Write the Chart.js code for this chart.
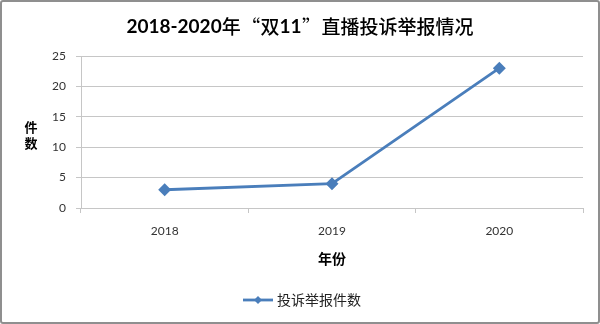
<!DOCTYPE html>
<html>
<head>
<meta charset="utf-8">
<script src="https://cdn.jsdelivr.net/npm/chart.js@4/dist/chart.umd.min.js"></script>
<style>
    html, body { margin: 0; padding: 0; background: #fff; }
    #wrap {
        position: relative;
        width: 600px; height: 324px;
        box-sizing: border-box;
        border: 2px solid #8f8f8f;
        border-radius: 3px;
    }
    #myChart { position: absolute; left: -2px; top: -2px; }
</style>
</head>
<body>
<div id="wrap"><canvas id="myChart" width="600" height="324"></canvas></div>
<script>
// data
const years = ['2018', '2019', '2020'];
const complaints = [3, 4, 23];
const yTicks = [0, 5, 10, 15, 20, 25];

const chartTitle = '2018-2020年“双11”直播投诉举报情况';
const seriesName = '投诉举报件数';
const xTitle = '年份';
const yTitle = ['件', '数'];

const lineColor = '#4a7ebb';
const gridColor = '#c6c6c6';
const cjk = '"Noto Sans CJK SC", sans-serif';
const latin = 'Lato, "Noto Sans CJK SC", sans-serif';

// title: bold latin digits, medium CJK, full width curly quotes
function drawMixed(ctx, text, cx, y, size) {
    const runs = [];
    for (const ch of text) {
        const isQuote = ch === '“' || ch === '”';
        const isCjk = /[\u3400-\u9fff]/.test(ch);
        const font = isQuote ? 'normal ' + size + 'px ' + cjk
            : isCjk ? '500 ' + size + 'px ' + cjk
            : 'bold ' + size + 'px ' + latin;
        const last = runs[runs.length - 1];
        if (last && last.font === font && !isQuote) last.text += ch;
        else runs.push({ text: ch, font: font, quote: isQuote });
    }
    let total = 0;
    runs.forEach(r => {
        ctx.font = r.font;
        r.w = r.quote ? size * 1.05 : ctx.measureText(r.text).width;
        total += r.w;
    });
    let x = cx - total / 2;
    ctx.textAlign = 'center';
    runs.forEach(r => {
        ctx.font = r.font;
        ctx.fillText(r.text, x + r.w / 2, y);
        x += r.w;
    });
}

// texts outside the plot: title, axis titles, legend
const extraText = {
    id: 'extraText',
    afterDraw(chart) {
        const ctx = chart.ctx;
        const area = chart.chartArea;
        const cx = chart.width / 2;
        ctx.save();
        ctx.fillStyle = '#000';
        ctx.textAlign = 'center';
        ctx.textBaseline = 'middle';

        drawMixed(ctx, chartTitle, cx, 27, 19);

        ctx.textAlign = 'center';
        ctx.font = 'bold 14px ' + cjk;
        ctx.fillText(xTitle, (area.left + area.right) / 2, 259);
        ctx.font = 'bold 13px ' + cjk;
        yTitle.forEach((ch, i) => ctx.fillText(ch, 31, 127 + i * 16));

        // legend: line with diamond marker
        ctx.font = '14px ' + cjk;
        const textW = ctx.measureText(seriesName).width;
        const lineW = 30;
        const total = lineW + 4 + textW;
        const x0 = cx - total / 2 + 2;
        const ly = 300;
        ctx.strokeStyle = lineColor;
        ctx.lineWidth = 2.8;
        ctx.beginPath();
        ctx.moveTo(x0, ly);
        ctx.lineTo(x0 + lineW, ly);
        ctx.stroke();
        ctx.fillStyle = lineColor;
        ctx.beginPath();
        const mx = x0 + lineW / 2;
        ctx.moveTo(mx, ly - 4);
        ctx.lineTo(mx + 4, ly);
        ctx.lineTo(mx, ly + 4);
        ctx.lineTo(mx - 4, ly);
        ctx.closePath();
        ctx.fill();
        ctx.fillStyle = '#222';
        ctx.textAlign = 'left';
        ctx.fillText(seriesName, x0 + lineW + 4, ly);
        ctx.restore();
    }
};

const ctx = document.getElementById('myChart').getContext('2d');
const myChart = new Chart(ctx, {
    type: 'line',
    data: {
        labels: years,
        datasets: [{
            label: seriesName,
            data: complaints,
            borderColor: lineColor,
            backgroundColor: lineColor,
            borderWidth: 2.8,
            pointStyle: 'rectRot',
            pointRadius: 4.5,
            pointHoverRadius: 4.5,
            tension: 0
        }]
    },
    options: {
        responsive: false,
        animation: false,
        layout: {
            padding: { top: 56, left: 0, right: 17, bottom: 0 }
        },
        plugins: {
            legend: { display: false },
            title: { display: false },
            tooltip: { enabled: false }
        },
        scales: {
            x: {
                offset: true,
                grid: {
                    offset: true,
                    drawOnChartArea: false,
                    drawTicks: true,
                    tickLength: 5,
                    color: gridColor
                },
                border: { color: gridColor, width: 1 },
                ticks: {
                    color: '#333',
                    padding: 11,
                    font: { family: latin, size: 12 }
                },
                afterFit(scale) { scale.height = 116; }
            },
            y: {
                min: 0,
                max: 25,
                afterBuildTicks(scale) {
                    scale.ticks = yTicks.map(v => ({ value: v }));
                },
                grid: {
                    color: gridColor,
                    tickLength: 5
                },
                border: { color: gridColor, width: 1 },
                ticks: {
                    color: '#333',
                    padding: 10,
                    font: { family: latin, size: 12 }
                },
                afterFit(scale) { scale.width = 81; }
            }
        }
    },
    plugins: [extraText]
});
</script>
</body>
</html>
